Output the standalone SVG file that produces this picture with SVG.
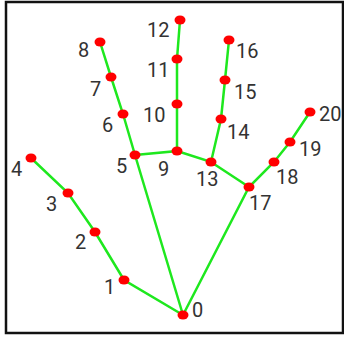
<svg xmlns="http://www.w3.org/2000/svg" width="344" height="337" viewBox="0 0 344 337">
<style>
.c{stroke:#1ee81e;stroke-width:2.5;fill:none;stroke-linecap:round}
.d{fill:#ff0000}
.t{font-family:Roboto,"Liberation Sans",sans-serif;font-size:20px;fill:#333333}
</style>
<rect x="0" y="0" width="344" height="337" fill="#ffffff"/>
<path d="M6,333 L6,2 L343,2 L343,333 Z" fill="none" stroke="#111111" stroke-width="2.5"/>
<g id="connectors">
<polyline class="c" points="183,315 124,280 95,232 68,193 31,158"/>
<polyline class="c" points="183,315 135,155 123,114 111,77 100,42"/>
<polyline class="c" points="135,155 177,151 177,104 177,59 180,20"/>
<polyline class="c" points="177,151 211,162 221,119 225,80 229,40"/>
<polyline class="c" points="211,162 249,187"/>
<polyline class="c" points="183,315 249,187 274,162 290,142 310,112"/>
</g>
<g id="n0"><ellipse class="d" cx="183" cy="315" rx="5.5" ry="4.5"/><text class="t" x="192" y="317">0</text></g>
<g id="n1"><ellipse class="d" cx="124" cy="280" rx="5.5" ry="4.5"/><text class="t" x="104" y="294">1</text></g>
<g id="n2"><ellipse class="d" cx="95" cy="232" rx="5.5" ry="4.5"/><text class="t" x="75" y="249">2</text></g>
<g id="n3"><ellipse class="d" cx="68" cy="193" rx="5.5" ry="4.5"/><text class="t" x="46" y="211">3</text></g>
<g id="n4"><ellipse class="d" cx="31" cy="158" rx="5.5" ry="4.5"/><text class="t" x="11" y="176">4</text></g>
<g id="n5"><ellipse class="d" cx="135" cy="155" rx="5.5" ry="4.5"/><text class="t" x="116" y="173">5</text></g>
<g id="n6"><ellipse class="d" cx="123" cy="114" rx="5.5" ry="4.5"/><text class="t" x="102" y="132">6</text></g>
<g id="n7"><ellipse class="d" cx="111" cy="77" rx="5.5" ry="4.5"/><text class="t" x="90" y="96">7</text></g>
<g id="n8"><ellipse class="d" cx="100" cy="42" rx="5.5" ry="4.5"/><text class="t" x="78" y="57">8</text></g>
<g id="n9"><ellipse class="d" cx="177" cy="151" rx="5.5" ry="4.5"/><text class="t" x="158" y="176">9</text></g>
<g id="n10"><ellipse class="d" cx="177" cy="104" rx="5.5" ry="4.5"/><text class="t" x="143" y="122">10</text></g>
<g id="n11"><ellipse class="d" cx="177" cy="59" rx="5.5" ry="4.5"/><text class="t" x="147" y="77">11</text></g>
<g id="n12"><ellipse class="d" cx="180" cy="20" rx="5.5" ry="4.5"/><text class="t" x="147" y="37">12</text></g>
<g id="n13"><ellipse class="d" cx="211" cy="162" rx="5.5" ry="4.5"/><text class="t" x="196" y="186">13</text></g>
<g id="n14"><ellipse class="d" cx="221" cy="119" rx="5.5" ry="4.5"/><text class="t" x="227" y="139">14</text></g>
<g id="n15"><ellipse class="d" cx="225" cy="80" rx="5.5" ry="4.5"/><text class="t" x="234" y="99">15</text></g>
<g id="n16"><ellipse class="d" cx="229" cy="40" rx="5.5" ry="4.5"/><text class="t" x="236" y="58">16</text></g>
<g id="n17"><ellipse class="d" cx="249" cy="187" rx="5.5" ry="4.5"/><text class="t" x="249" y="210">17</text></g>
<g id="n18"><ellipse class="d" cx="274" cy="162" rx="5.5" ry="4.5"/><text class="t" x="276" y="184">18</text></g>
<g id="n19"><ellipse class="d" cx="290" cy="142" rx="5.5" ry="4.5"/><text class="t" x="299" y="156">19</text></g>
<g id="n20"><ellipse class="d" cx="310" cy="112" rx="5.5" ry="4.5"/><text class="t" x="319" y="121">20</text></g>
</svg>
